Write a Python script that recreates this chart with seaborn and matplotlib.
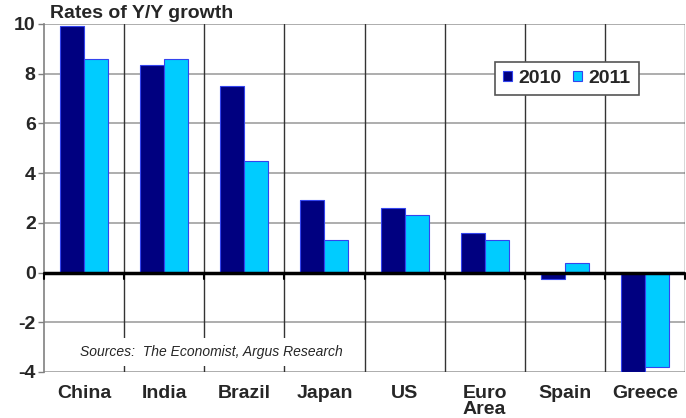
import matplotlib
matplotlib.use("Agg")
import matplotlib.pyplot as plt
import seaborn as sns
import pandas as pd
import numpy as np

countries = ["China", "India", "Brazil", "Japan", "US", "Euro\nArea", "Spain", "Greece"]
growth_2010 = [9.9, 8.35, 7.5, 2.9, 2.6, 1.6, -0.25, -4.0]
growth_2011 = [8.6, 8.6, 4.5, 1.3, 2.3, 1.3, 0.4, -3.8]
years = ["2010", "2011"]
yticks = [-4, -2, 0, 2, 4, 6, 8, 10]

df = pd.DataFrame({
    "country": countries * 2,
    "growth": growth_2010 + growth_2011,
    "year": [years[0]] * len(countries) + [years[1]] * len(countries),
})

sns.set_style("white")
plt.rcParams["font.family"] = ["Liberation Sans", "DejaVu Sans"]

fig = plt.figure(figsize=(6.86, 4.18), dpi=100)
ax = fig.add_axes([44 / 686, 1 - 372 / 418, (685 - 44) / 686, (372 - 24) / 418])

palette = {"2010": "#000080", "2011": "#00CCFF"}
sns.barplot(data=df, x="country", y="growth", hue="year", palette=palette,
            width=0.6, saturation=1, edgecolor="#3344EE", linewidth=0.8,
            ax=ax, legend=True, zorder=3)

ax.set_ylim(-4, 10)
ax.set_xlim(-0.5, len(countries) - 0.5)
ax.set_yticks(yticks)
ax.set_yticklabels([str(t) for t in yticks], fontsize=14, fontweight="bold")
ax.set_xticks(range(len(countries)))
ax.set_xticklabels(countries, fontsize=14, fontweight="bold", linespacing=0.95)
ax.tick_params(axis="x", length=0, pad=9)
ax.tick_params(axis="y", length=4, width=1, color="#808080", direction="out", left=True, pad=2)
ax.set_xlabel("")
ax.set_ylabel("")

# horizontal gridlines
for t in yticks:
    if t != 0:
        ax.axhline(t, color="#A0A0A0", lw=1.2, zorder=1)
# vertical category separators
for b in np.arange(0.5, len(countries), 1.0):
    ax.axvline(b, color="#333333", lw=1.0, zorder=1)
# zero line with tick marks
ax.axhline(0, color="black", lw=2.5, zorder=4)
for b in np.arange(-0.5, len(countries), 1.0):
    ax.plot([b, b], [0, -0.25], color="black", lw=1.5, zorder=4, clip_on=False)

for s in ["top", "right", "bottom"]:
    ax.spines[s].set_visible(False)
ax.spines["left"].set_color("#808080")
ax.spines["left"].set_linewidth(1.2)

# title
fig.text(50 / 686, 1 - 14 / 418, "Rates of Y/Y growth", fontsize=14,
         fontweight="bold", va="center", ha="left")

# sources
ax.text(-0.05, -3.2, "Sources:  The Economist, Argus Research", fontsize=10,
        style="italic", va="center", ha="left", zorder=5,
        bbox=dict(facecolor="white", edgecolor="none", pad=5))

# legend
leg = ax.legend(loc="upper left", bbox_to_anchor=((495 - 44) / 641, (372 - 62) / 348),
                ncol=2, frameon=True, fancybox=False, edgecolor="#555555",
                prop={"size": 14, "weight": "bold"}, handlelength=0.45,
                handleheight=0.45, handletextpad=0.35, columnspacing=0.6,
                borderpad=0.4, borderaxespad=0, framealpha=1)
leg.get_frame().set_linewidth(1.2)
leg.set_zorder(6)

fig.savefig("out.png", dpi=100)
